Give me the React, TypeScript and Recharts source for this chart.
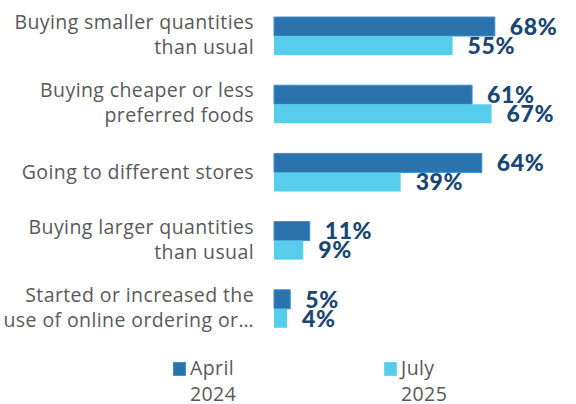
import React from 'react';
import { BarChart, Bar, XAxis, YAxis, LabelList } from 'recharts';

const categoryLines: string[][] = [
  ['Buying smaller quantities', 'than usual'],
  ['Buying cheaper or less', 'preferred foods'],
  ['Going to different stores'],
  ['Buying larger quantities', 'than usual'],
  ['Started or increased the', 'use of online ordering or…'],
];
const april2024 = [68, 61, 64, 11, 5];
const july2025 = [55, 67, 39, 9, 4];
const seriesNames = ['April 2024', 'July 2025'];

const data = categoryLines.map((lines, i) => ({
  name: lines.join(' '),
  april: april2024[i],
  july: july2025[i],
}));

const FONT = '"Open Sans", Lato, sans-serif';
const DARK = '#2b73ac';
const LIGHT = '#57cdec';
const LABEL = '#1a4673';
const legendColors = [DARK, LIGHT];
const legendBorders = ['#3d8fd4', '#6fd6f0'];

const CategoryTick = (props: any) => {
  const { x, y, payload } = props;
  const lines = categoryLines[payload.index] || [payload.value];
  const lh = 25;
  const start = -((lines.length - 1) * lh) / 2 - (lines.length > 1 ? 1.5 : 0);
  return (
    <g transform={`translate(${x},${y})`}>
      {lines.map((ln, i) => (
        <text
          key={i}
          x={0}
          y={start + i * lh}
          dy="0.35em"
          textAnchor="end"
          fill="#595959"
          fontSize={19.5}
          letterSpacing={0.4}
          fontFamily={FONT}
        >
          {ln}
        </text>
      ))}
    </g>
  );
};

const renderValue = (props: any) => {
  const { x, y, width, height, value } = props;
  return (
    <text
      x={x + width + 15}
      y={y + height / 2}
      dy="0.36em"
      fill={LABEL}
      fontSize={23}
      fontWeight={900}
      letterSpacing={0.6}
      fontFamily='Lato, "Open Sans", sans-serif'
    >
      {`${value}%`}
    </text>
  );
};

const ChartLegend = () => {
  const lefts = [173, 384];
  return (
    <>
      {seriesNames.map((nm, i) => {
        const [a, b] = nm.split(' ');
        return (
          <div key={i} style={{ position: 'absolute', left: lefts[i], top: 355, fontFamily: FONT, fontSize: 19.5, letterSpacing: 0.4, color: '#595959', lineHeight: '26px' }}>
            <span style={{ position: 'absolute', left: 0, top: 7, width: 13, height: 14, background: legendColors[i], border: `1px solid ${legendBorders[i]}`, boxSizing: 'border-box' }} />
            <div style={{ paddingLeft: 17 }}>{a}</div>
            <div style={{ paddingLeft: 17 }}>{b}</div>
          </div>
        );
      })}
    </>
  );
};

export default function App() {
  return (
    <div style={{ position: 'absolute', left: 0, top: 0, width: 576, height: 404, background: '#fff', overflow: 'hidden' }}>
      <BarChart
        width={576}
        height={404}
        data={data}
        layout="vertical"
        margin={{ top: 2, right: 0, bottom: 61, left: 0 }}
        barCategoryGap="22%"
        barGap={0}
      >
        <XAxis type="number" domain={[0, 93]} hide />
        <YAxis
          type="category"
          dataKey="name"
          width={274}
          axisLine={false}
          tickLine={false}
          tick={<CategoryTick />}
          tickMargin={14}
          interval={0}
        />
        <Bar dataKey="april" name={seriesNames[0]} fill={DARK} stroke="#3d8fd4" strokeWidth={1} isAnimationActive={false}>
          <LabelList dataKey="april" content={renderValue} />
        </Bar>
        <Bar dataKey="july" name={seriesNames[1]} fill={LIGHT} isAnimationActive={false}>
          <LabelList dataKey="july" content={renderValue} />
        </Bar>
      </BarChart>
      <ChartLegend />
    </div>
  );
}
